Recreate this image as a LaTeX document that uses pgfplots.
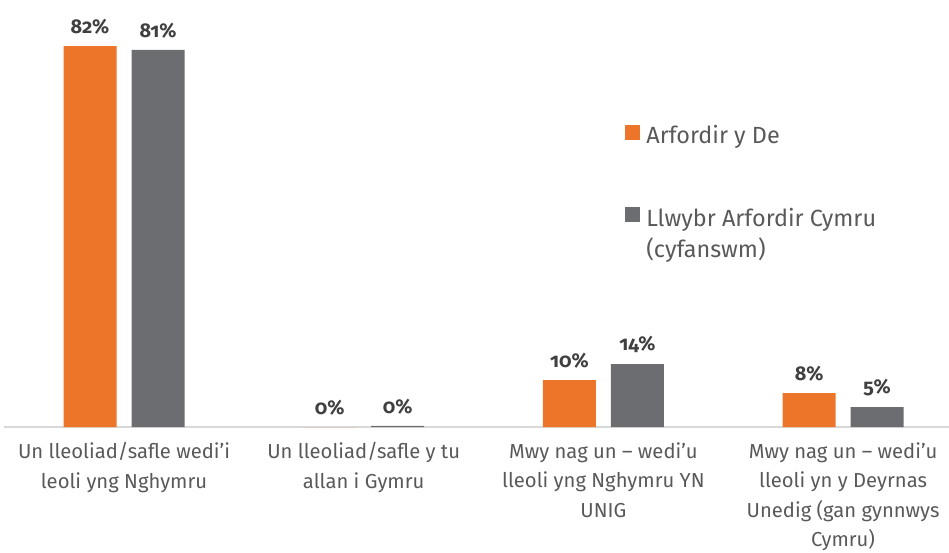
\documentclass[border=0pt]{standalone}
\usepackage{pgfplots}
\pgfplotsset{compat=1.18}
\usepackage{fontspec}
\setmainfont{Fira Sans}[Numbers=OldStyle]
\definecolor{cOrange}{RGB}{237,117,42}
\definecolor{cGray}{RGB}{108,109,113}
\definecolor{cText}{RGB}{89,89,89}
\definecolor{cLabel}{RGB}{64,64,64}
\definecolor{cAxis}{RGB}{217,217,217}
\pgfplotstableread{
x y label
0 81.9 82
1 0.0 0
2 10.1 10
3 7.3 8
}\seriesA
\pgfplotstableread{
x y label
0 81.1 81
1 0.25 0
2 13.5 14
3 4.3 5
}\seriesB
\begin{document}
\begin{tikzpicture}[x=1bp,y=1bp]
\useasboundingbox (0bp,0bp) rectangle (949bp,553bp);
\begin{axis}[
  at={(124bp,126bp)}, anchor=origin,
  scale only axis, width=944.4bp, height=418.5bp,
  xmin=-0.5, xmax=3.44, ymin=0, ymax=90,
  clip=false,
  ybar=15bp, bar width=53bp,
  axis x line*=bottom, axis y line=none,
  x axis line style={-, color=cAxis, line width=1.2bp},
  xtick={0,1,2,3},
  major tick length=0pt,
  xticklabels={
    {Un lleoliad/safle wedi'i\\leoli yng Nghymru},
    {Un lleoliad/safle y tu\\allan i Gymru},
    {Mwy nag un -- wedi'u\\lleoli yng Nghymru YN\\UNIG},
    {Mwy nag un -- wedi'u\\lleoli yn y Deyrnas\\Unedig (gan gynnwys\\Cymru)}},
  xticklabel style={font=\fontsize{20.3}{29.6}\selectfont, text=cText, align=center, yshift=-12bp},
  nodes near coords={\pgfplotspointmeta\%},
  point meta=explicit symbolic,
  every node near coord/.append style={font=\fontsize{20}{22}\selectfont\bfseries, text=cLabel, yshift=8bp},
  legend style={at={(0.6544,0.732)}, anchor=north west, draw=none, fill=none,
    font=\fontsize{23.5}{31}\selectfont, text=cText, row sep=56bp,
    /tikz/every odd column/.append style={column sep=4bp}},
  legend cell align=left,
  legend image code/.code={\fill[#1] (0bp,-5.5bp) rectangle (15bp,9.5bp);},
]
\addplot[fill=cOrange, draw=none] table[x=x, y=y, meta=label] {\seriesA};
\addplot[fill=cGray, draw=none] table[x=x, y=y, meta=label] {\seriesB};
\legend{Arfordir y De, {\begin{tabular}[t]{@{}l@{}}Llwybr Arfordir Cymru\\(cyfanswm)\end{tabular}}}
\end{axis}
\end{tikzpicture}
\end{document}
